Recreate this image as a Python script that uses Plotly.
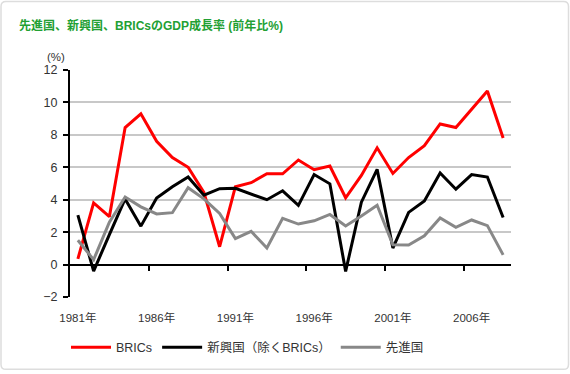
import plotly.graph_objects as go

years = list(range(1981, 2009))
brics = [0.35, 3.8, 2.95, 8.45, 9.3, 7.6, 6.6, 6.0, 4.45, 1.1, 4.8, 5.05, 5.6, 5.6, 6.45, 5.85,
         6.08, 4.12, 5.5, 7.2, 5.62, 6.6, 7.33, 8.67, 8.45, 9.55, 10.7, 7.8]
emerging = [3.05, -0.4, 1.85, 4.05, 2.37, 4.1, 4.8, 5.4, 4.28, 4.68, 4.7, 4.35, 4.0, 4.55, 3.65, 5.55,
            4.98, -0.42, 3.85, 5.87, 1.02, 3.22, 3.92, 5.65, 4.65, 5.55, 5.4, 2.9]
advanced = [1.5, 0.3, 2.62, 4.17, 3.56, 3.12, 3.2, 4.74, 4.05, 3.15, 1.6, 2.05, 1.02, 2.85, 2.5, 2.7,
            3.09, 2.38, 3.0, 3.66, 1.22, 1.2, 1.78, 2.87, 2.3, 2.75, 2.4, 0.6]
series_names = ["BRICs", "新興国（除くBRICs）", "先進国"]
series_colors = ["#ff0000", "#000000", "#888888"]
tick_years = [1981, 1986, 1991, 1996, 2001, 2006]
tick_labels = [f"{y}年" for y in tick_years]
boundary_ticks = [1985.5, 1990.5, 1995.5, 2000.5, 2005.5]
y_ticks = list(range(-2, 13, 2))
title_text = "先進国、新興国、BRICsのGDP成長率 (前年比%)"
unit_text = "(%)"

W, H = 570, 374
L, R, T, B = 70, 59, 70, 75
pw, ph = W - L - R, H - T - B
def px(x):
    return (x - L) / pw
def py(y):
    return (H - B - y) / ph

FONT = "Liberation Sans, Noto Sans CJK JP, sans-serif"
xr = [1980.5, 2008.5]
yr = [-2, 12]

fig = go.Figure()
for name, vals, col in zip(series_names, [brics, emerging, advanced], series_colors):
    fig.add_trace(go.Scatter(x=years, y=vals, name=name, mode="lines",
                             line=dict(color=col, width=3), hoverinfo="skip"))

# rounded border
r = 5
x0, x1, y0, y1 = px(1), px(568.5), py(372), py(1)
rx, ry = r / pw, r / ph
path = (f"M{x0+rx},{y1} L{x1-rx},{y1} Q{x1},{y1} {x1},{y1-ry} L{x1},{y0+ry} Q{x1},{y0} {x1-rx},{y0} "
        f"L{x0+rx},{y0} Q{x0},{y0} {x0},{y0+ry} L{x0},{y1-ry} Q{x0},{y1} {x0+rx},{y1} Z")

zero_pos = (0 - yr[0]) / (yr[1] - yr[0])

fig.update_layout(
    width=W, height=H,
    margin=dict(l=L, r=R, t=T, b=B),
    paper_bgcolor="white", plot_bgcolor="white",
    font=dict(family=FONT, size=12, color="#333333"),
    showlegend=True,
    legend=dict(orientation="h", x=px(66), xanchor="left", y=py(350), yanchor="middle",
                font=dict(size=12.5, color="#333333"), itemwidth=40, bgcolor="rgba(0,0,0,0)"),
    xaxis=dict(range=xr, anchor="free", position=zero_pos, showgrid=False, zeroline=False,
               showline=True, linecolor="black", linewidth=2,
               tickmode="array", tickvals=boundary_ticks, ticks="outside", ticklen=5,
               tickwidth=2, tickcolor="black", showticklabels=False, fixedrange=True),
    xaxis2=dict(range=xr, overlaying="x", anchor="y", side="bottom", showgrid=False,
                zeroline=False, showline=False, tickmode="array", tickvals=tick_years,
                ticktext=tick_labels, ticks="outside", ticklen=10, tickcolor="rgba(0,0,0,0)",
                tickfont=dict(size=11.5, color="#333333")),
    yaxis=dict(range=yr, tickmode="array", tickvals=y_ticks, showgrid=True,
               gridcolor="#c8c8c8", gridwidth=2, zeroline=False, showline=True,
               linecolor="black", linewidth=2, ticks="outside", ticklen=5, tickwidth=2,
               tickcolor="black", ticklabelstandoff=3, tickfont=dict(size=12.5, color="#333333")),
    shapes=[dict(type="path", path=path, xref="paper", yref="paper",
                 line=dict(color="#dddddd", width=1.5), fillcolor="rgba(0,0,0,0)", layer="below")],
    annotations=[
        dict(text=f"<b>{title_text}</b>", x=px(17), y=py(25), xref="paper", yref="paper",
             xanchor="left", yanchor="middle", showarrow=False,
             font=dict(size=12, color="#22a033", family=FONT)),
        dict(text=unit_text, x=px(45), y=py(57), xref="paper", yref="paper",
             xanchor="left", yanchor="middle", showarrow=False,
             font=dict(size=11.5, color="#333333")),
    ],
)
# dummy trace to activate xaxis2
fig.add_trace(go.Scatter(x=[None], y=[None], xaxis="x2", showlegend=False, hoverinfo="skip"))

fig.write_html("out.html", config={"displayModeBar": False},
               post_script="document.body.style.margin='0';document.body.style.overflow='hidden';")
